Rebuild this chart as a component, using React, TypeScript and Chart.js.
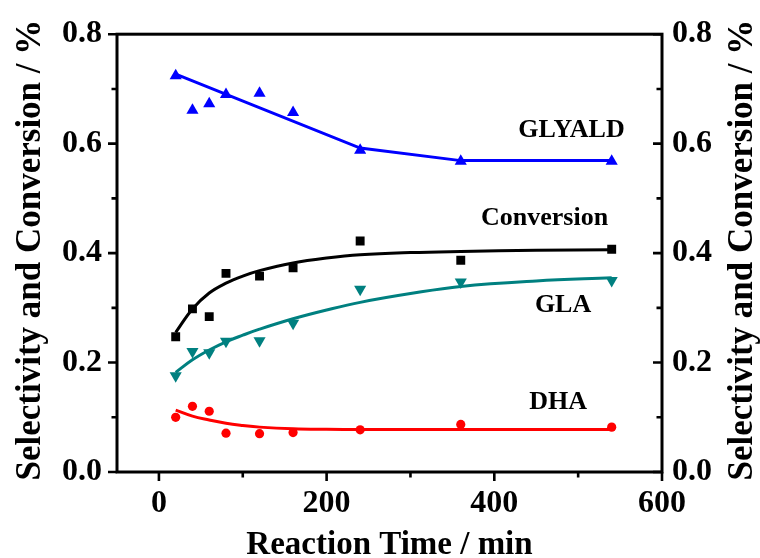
import React, { useEffect, useRef } from 'react';
import { Chart, registerables } from 'chart.js';

Chart.register(...registerables);

// Measured data (reaction time in min)
const times = [20, 40, 60, 80, 120, 160, 240, 360, 540];
const glyald = [0.724, 0.661, 0.673, 0.690, 0.692, 0.657, 0.588, 0.568, 0.568];
const conversion = [0.247, 0.298, 0.284, 0.363, 0.358, 0.373, 0.422, 0.387, 0.407];
const gla = [0.176, 0.220, 0.218, 0.239, 0.240, 0.272, 0.334, 0.347, 0.350];
const dha = [0.100, 0.120, 0.111, 0.071, 0.070, 0.072, 0.077, 0.087, 0.082];

// Fitted curves
const glyaldFitTimes = [20, 240, 360, 540];
const glyaldFit = [0.727, 0.592, 0.569, 0.569];
const fitTimes = [20, 40, 60, 80, 100, 120, 160, 200, 240, 300, 360, 450, 540];
const conversionFit = [0.255, 0.298, 0.327, 0.345, 0.358, 0.368, 0.382, 0.391, 0.397, 0.401, 0.403, 0.405, 0.406];
const glaFit = [0.182, 0.205, 0.223, 0.238, 0.250, 0.261, 0.280, 0.296, 0.310, 0.326, 0.339, 0.349, 0.355];
const dhaFit = [0.113, 0.102, 0.095, 0.089, 0.085, 0.082, 0.079, 0.078, 0.0776, 0.0775, 0.0775, 0.0775, 0.0775];

// Axes
const xTicks = [0, 200, 400, 600];
const xMinor = [100, 300, 500];
const yTicks = [0, 0.2, 0.4, 0.6, 0.8];
const yMinor = [0.1, 0.3, 0.5, 0.7];

// Series labels placed in data coordinates
const seriesLabels = [
  { text: 'GLYALD', x: 492, y: 0.624 },
  { text: 'Conversion', x: 460, y: 0.463 },
  { text: 'GLA', x: 482, y: 0.304 },
  { text: 'DHA', x: 476, y: 0.127 },
];

const FONT = "'Liberation Serif', 'Times New Roman', serif";

const toXY = (xs: number[], ys: number[]) => xs.map((x, i) => ({ x, y: ys[i] }));

const decorPlugin = {
  id: 'decor',
  afterDraw(chart: any) {
    const { ctx, chartArea, scales } = chart;
    const xs = scales.x;
    const ys = scales.y;
    const { left, right, top, bottom } = chartArea;
    ctx.save();
    ctx.strokeStyle = '#000';
    ctx.lineCap = 'butt';
    // frame
    ctx.lineWidth = 3;
    ctx.strokeRect(left, top, right - left, bottom - top);
    // ticks
    ctx.lineWidth = 2.6;
    ctx.beginPath();
    xTicks.forEach((v) => {
      const p = xs.getPixelForValue(v);
      ctx.moveTo(p, bottom);
      ctx.lineTo(p, bottom + 9);
    });
    xMinor.forEach((v) => {
      const p = xs.getPixelForValue(v);
      ctx.moveTo(p, bottom);
      ctx.lineTo(p, bottom + 5.5);
    });
    yTicks.forEach((v) => {
      const p = ys.getPixelForValue(v);
      ctx.moveTo(left, p);
      ctx.lineTo(left - 9, p);
      ctx.moveTo(right, p);
      ctx.lineTo(right - 9, p);
    });
    yMinor.forEach((v) => {
      const p = ys.getPixelForValue(v);
      ctx.moveTo(left, p);
      ctx.lineTo(left - 5.5, p);
      ctx.moveTo(right, p);
      ctx.lineTo(right - 5.5, p);
    });
    ctx.stroke();

    // titles
    ctx.fillStyle = '#000';
    ctx.textAlign = 'center';
    ctx.textBaseline = 'middle';
    ctx.font = `bold 33px ${FONT}`;
    ctx.fillText('Reaction Time / min', (left + right) / 2, 545);
    ctx.font = `bold 35px ${FONT}`;
    const cy = (top + bottom) / 2 - 3;
    [31, 743].forEach((cx) => {
      ctx.save();
      ctx.translate(cx, cy);
      ctx.rotate(-Math.PI / 2);
      ctx.fillText('Selectivity and Conversion / %', 0, 0);
      ctx.restore();
    });

    // series labels
    ctx.font = `bold 26px ${FONT}`;
    seriesLabels.forEach((l) => {
      ctx.fillText(l.text, xs.getPixelForValue(l.x), ys.getPixelForValue(l.y));
    });
    ctx.restore();
  },
};

export default function App() {
  const ref = useRef<HTMLCanvasElement | null>(null);

  useEffect(() => {
    if (!ref.current) return;
    const tickFont = { family: FONT, size: 32, weight: 'bold' as const };
    const pointSet = (label: string, ys: number[], color: string, style: string, r: number, rot = 0) => ({
      label,
      data: toXY(times, ys),
      showLine: false,
      pointStyle: style,
      pointRadius: r,
      pointRotation: rot,
      pointBackgroundColor: color,
      pointBorderWidth: 0,
      borderColor: color,
      backgroundColor: color,
      order: 0,
    });
    const lineSet = (label: string, xs: number[], ys: number[], color: string, curved: boolean) => ({
      label,
      data: toXY(xs, ys),
      showLine: true,
      borderColor: color,
      borderWidth: 3,
      pointRadius: 0,
      tension: curved ? 0.4 : 0,
      fill: false,
      order: 1,
    });

    const chart = new Chart(ref.current, {
      type: 'line',
      data: {
        datasets: [
          pointSet('GLYALD', glyald, '#0000FF', 'triangle', 7),
          pointSet('Conversion', conversion, '#000000', 'rect', 6.3),
          pointSet('GLA', gla, '#008080', 'triangle', 7, 180),
          pointSet('DHA', dha, '#FF0000', 'circle', 4.6),
          lineSet('GLYALD fit', glyaldFitTimes, glyaldFit, '#0000FF', false),
          lineSet('Conversion fit', fitTimes, conversionFit, '#000000', true),
          lineSet('GLA fit', fitTimes, glaFit, '#008080', true),
          lineSet('DHA fit', fitTimes, dhaFit, '#FF0000', true),
        ] as any,
      },
      options: {
        animation: false,
        responsive: false,
        devicePixelRatio: 1,
        layout: { padding: { top: 31, left: 0, right: 0, bottom: 0 } },
        plugins: { legend: { display: false }, tooltip: { enabled: false } },
        scales: {
          x: {
            type: 'linear',
            min: -50,
            max: 600,
            grid: { display: false, drawTicks: false },
            border: { display: false },
            afterBuildTicks: (s: any) => {
              s.ticks = xTicks.map((v) => ({ value: v }));
            },
            afterFit: (s: any) => {
              s.height = 86;
            },
            ticks: {
              autoSkip: false,
              maxRotation: 0,
              padding: 13,
              color: '#000',
              font: tickFont,
              callback: (v: any) => String(v),
            },
          },
          y: {
            type: 'linear',
            position: 'left',
            min: 0,
            max: 0.8,
            grid: { display: false, drawTicks: false },
            border: { display: false },
            afterBuildTicks: (s: any) => {
              s.ticks = yTicks.map((v) => ({ value: v }));
            },
            afterFit: (s: any) => {
              s.width = 117;
            },
            ticks: {
              autoSkip: false,
              padding: 15,
              color: '#000',
              font: tickFont,
              callback: (v: any) => Number(v).toFixed(1),
            },
          },
          y2: {
            type: 'linear',
            position: 'right',
            min: 0,
            max: 0.8,
            grid: { display: false, drawTicks: false },
            border: { display: false },
            afterBuildTicks: (s: any) => {
              s.ticks = yTicks.map((v) => ({ value: v }));
            },
            afterFit: (s: any) => {
              s.width = 98;
            },
            ticks: {
              autoSkip: false,
              padding: 10,
              color: '#000',
              font: tickFont,
              callback: (v: any) => Number(v).toFixed(1),
            },
          },
        },
      },
      plugins: [decorPlugin],
    });
    return () => chart.destroy();
  }, []);

  return (
    <div style={{ position: 'fixed', left: 0, top: 0, width: 760, height: 558, background: '#fff' }}>
      <canvas ref={ref} width={760} height={558} style={{ display: 'block', width: 760, height: 558 }} />
    </div>
  );
}
